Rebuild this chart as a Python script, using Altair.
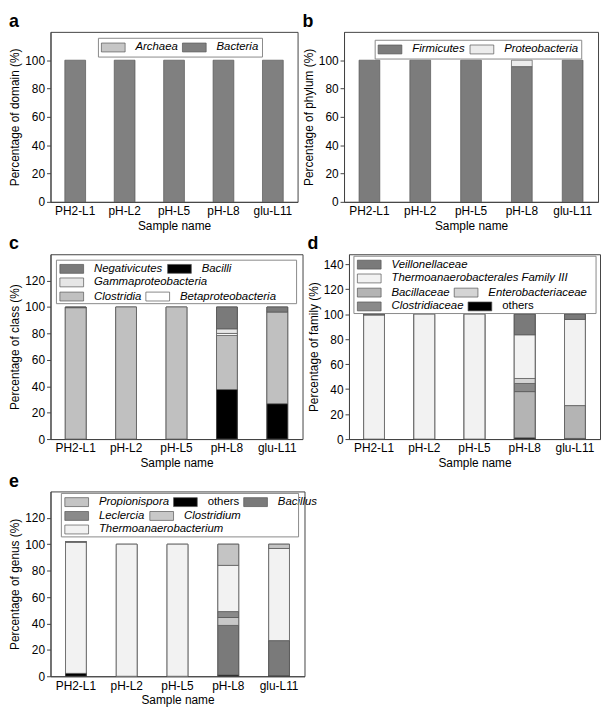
import json
import altair as alt
import pandas as pd

samples = ["PH2-L1", "pH-L2", "pH-L5", "pH-L8", "glu-L11"]

# panel a: domain
domain_archaea = [0, 0, 0, 0, 0]
domain_bacteria = [100, 100, 100, 100, 100]

# panel b: phylum
phylum_firmicutes = [100, 100, 100, 95.5, 100]
phylum_proteobacteria = [0, 0, 0, 4.5, 0]

# panel c: class (stack order bottom -> top)
class_bacilli = [0, 0, 0, 37.5, 26.8]
class_clostridia = [99.5, 100, 100, 41.0, 69.4]
class_betaproteobacteria = [0, 0, 0, 1.5, 0]
class_gammaproteobacteria = [0, 0, 0, 3.5, 0]
class_negativicutes = [0.5, 0, 0, 16.5, 3.8]

# panel d: family
family_others = [0, 0, 0, 1.0, 0.5]
family_bacillaceae = [0, 0, 0, 37.0, 26.3]
family_clostridiaceae = [0, 0, 0, 6.5, 0]
family_enterobacteriaceae = [0, 0, 0, 4.0, 0]
family_thermo = [99.3, 100, 100, 35.0, 69.0]
family_veillonellaceae = [0.7, 0, 0, 16.5, 4.2]

# panel e: genus
genus_others = [2.2, 0, 0, 1.0, 0.5]
genus_bacillus = [0, 0, 0, 37.5, 26.5]
genus_clostridium = [0, 0, 0, 6.0, 0]
genus_leclercia = [0, 0, 0, 4.5, 0]
genus_thermo = [99.3, 100, 100, 35.0, 69.8]
genus_propionispora = [0.5, 0, 0, 16.0, 3.2]

FONT = "Liberation Sans"
EDGE = "#555555"
BOX = "#8a8a8a"
ROW_H = 14


def panel(letter, series, rows, colors, ymax, yticks, ytitle, w, h, lx, ly,
          frame_w=None):
    names = [n for n, _ in series]
    items = [t for r in rows for t in r]
    rng = [colors[t] for t in items]
    df = pd.DataFrame([
        {"sample": s, "taxon": n, "value": v}
        for n, vals in series for s, v in zip(samples, vals)
    ])
    base = alt.Chart(df).transform_calculate(
        ord=f"indexof({json.dumps(names)}, datum.taxon)", frm="'frame'"
    ).transform_filter("datum.value > 0")
    x = alt.X("sample:N", sort=samples,
              scale=alt.Scale(domain=samples, paddingInner=0, paddingOuter=0),
              axis=alt.Axis(title="Sample name", labelAngle=0, ticks=False,
                            labelPadding=4, titlePadding=4))
    y = alt.Y("value:Q", stack="zero",
              scale=alt.Scale(domain=[0, ymax], nice=False, zero=True),
              axis=alt.Axis(title=ytitle, values=yticks, tickSize=4,
                            labelPadding=2, titlePadding=3, grid=False))
    single = len(rows) == 1
    layers = []
    for j, r in enumerate(rows):
        kw = dict(
            title=None, orient="none", values=r, columns=len(r),
            direction="horizontal",
            symbolType="M-2,-0.75H2V0.75H-2Z", symbolSize=144,
            symbolOffset=6, labelOffset=16,
            symbolStrokeColor=EDGE, symbolStrokeWidth=0.7,
            labelFont=FONT, labelFontSize=11.5, labelColor="black",
            labelFontStyle={"expr": "datum.label == 'others' ? 'normal' : 'italic'"},
            labelLimit=400, rowPadding=1, columnPadding=3,
        )
        if single:
            kw.update(legendX=lx, legendY=ly, padding=3,
                      strokeColor=BOX, fillColor="white")
        else:
            kw.update(legendX=lx + 2, legendY=ly + 1 + ROW_H * j, padding=1)
        layers.append(
            base.mark_bar(size=21, stroke=EDGE, strokeWidth=0.7).encode(
                x=x, y=y,
                fill=alt.Fill("taxon:N",
                              scale=alt.Scale(domain=items, range=rng),
                              legend=alt.Legend(**kw)),
                order=alt.Order("ord:Q", sort="ascending"),
            )
        )
    if not single:
        # invisible layer; its legend symbol is the box around the legend rows
        fh = ROW_H * len(rows) + 2
        box_path = "M-6,-6H%dV%dH-6Z" % (frame_w - 6, fh - 6)
        frame_leg = alt.Legend(
            title=None, orient="none", legendX=lx, legendY=ly,
            symbolType=box_path, symbolSize=4, symbolOffset=0,
            symbolStrokeColor=BOX, symbolStrokeWidth=1,
            labelExpr="''", labelFontSize=12, labelOffset=0, padding=0,
        )
        layers.append(
            base.mark_bar(size=21).encode(
                x=x, y=y,
                fill=alt.Fill("frm:N",
                              scale=alt.Scale(domain=["frame"], range=["transparent"]),
                              legend=frame_leg),
                order=alt.Order("ord:Q", sort="ascending"),
            )
        )
    chart = alt.layer(*layers).resolve_scale(fill="independent").resolve_legend(
        fill="independent"
    ).properties(
        width=w, height=h,
        title=alt.TitleParams(letter, anchor="start", frame="bounds",
                              fontSize=18, fontWeight="bold", font=FONT,
                              offset=1, color="black"),
    )
    return chart


a = panel(
    "a",
    [("Archaea", domain_archaea), ("Bacteria", domain_bacteria)],
    [["Archaea", "Bacteria"]],
    {"Archaea": "#c6c6c6", "Bacteria": "#808080"},
    120, [0, 20, 40, 60, 80, 100], "Percentage of domain (%)",
    250, 172, 48, 6,
)

b = panel(
    "b",
    [("Firmicutes", phylum_firmicutes), ("Proteobacteria", phylum_proteobacteria)],
    [["Firmicutes", "Proteobacteria"]],
    {"Firmicutes": "#7c7c7c", "Proteobacteria": "#ececec"},
    120, [0, 20, 40, 60, 80, 100], "Percentage of phylum (%)",
    257, 172, 31, 8,
)

c = panel(
    "c",
    [("Bacilli", class_bacilli), ("Clostridia", class_clostridia),
     ("Betaproteobacteria", class_betaproteobacteria),
     ("Gammaproteobacteria", class_gammaproteobacteria),
     ("Negativicutes", class_negativicutes)],
    [["Negativicutes", "Bacilli"], ["Gammaproteobacteria"],
     ["Clostridia", "Betaproteobacteria"]],
    {"Negativicutes": "#7a7a7a", "Bacilli": "#000000",
     "Gammaproteobacteria": "#e6e6e6", "Clostridia": "#c0c0c0",
     "Betaproteobacteria": "#ffffff"},
    140, [0, 20, 40, 60, 80, 100, 120], "Percentage of class (%)",
    255, 187, 6, 6, frame_w=243,
)

d = panel(
    "d",
    [("others", family_others), ("Bacillaceae", family_bacillaceae),
     ("Clostridiaceae", family_clostridiaceae),
     ("Enterobacteriaceae", family_enterobacteriaceae),
     ("Thermoanaerobacterales Family III", family_thermo),
     ("Veillonellaceae", family_veillonellaceae)],
    [["Veillonellaceae"], ["Thermoanaerobacterales Family III"],
     ["Bacillaceae", "Enterobacteriaceae"], ["Clostridiaceae", "others"]],
    {"Veillonellaceae": "#7a7a7a", "Thermoanaerobacterales Family III": "#f2f2f2",
     "Bacillaceae": "#b4b4b4", "Enterobacteriaceae": "#d4d4d4",
     "Clostridiaceae": "#8a8a8a", "others": "#000000"},
    148, [0, 20, 40, 60, 80, 100, 120, 140], "Percentage of family (%)",
    254, 187, 5, 2, frame_w=245,
)

e = panel(
    "e",
    [("others", genus_others), ("Bacillus", genus_bacillus),
     ("Clostridium", genus_clostridium), ("Leclercia", genus_leclercia),
     ("Thermoanaerobacterium", genus_thermo),
     ("Propionispora", genus_propionispora)],
    [["Propionispora", "others", "Bacillus"], ["Leclercia", "Clostridium"],
     ["Thermoanaerobacterium"]],
    {"Propionispora": "#c4c4c4", "others": "#000000", "Bacillus": "#7a7a7a",
     "Leclercia": "#8a8a8a", "Clostridium": "#c8c8c8",
     "Thermoanaerobacterium": "#f2f2f2"},
    140, [0, 20, 40, 60, 80, 100, 120], "Percentage of genus (%)",
    257, 187, 11, 2, frame_w=240,
)

row1 = alt.hconcat(a, b, spacing=3).resolve_scale(fill="independent").resolve_legend(fill="independent")
row2 = alt.hconcat(c, d, spacing=3).resolve_scale(fill="independent").resolve_legend(fill="independent")

chart = alt.vconcat(row1, row2, e, spacing=2).resolve_scale(
    fill="independent"
).resolve_legend(fill="independent").properties(
    padding={"left": 0, "top": 0, "right": 0, "bottom": 0}
).configure_axis(
    labelFont=FONT, titleFont=FONT, labelFontSize=12, titleFontSize=12,
    titleFontWeight="normal", labelColor="black", titleColor="black",
    domainColor="#444444", tickColor="#444444", domainWidth=1,
).configure_view(stroke="#444444", strokeWidth=1)

chart.save("out.html", embed_options={"renderer": "svg", "actions": False})
